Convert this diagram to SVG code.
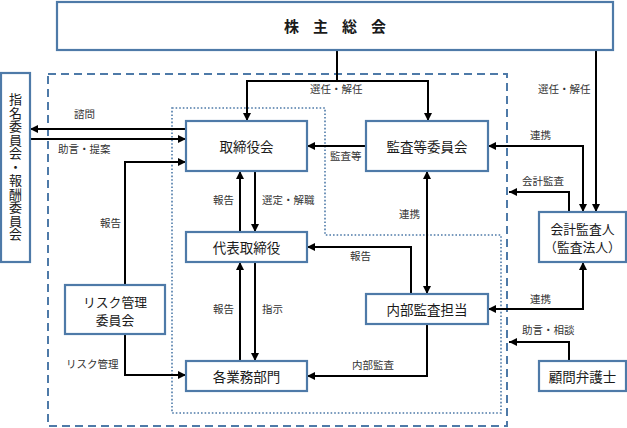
<svg xmlns="http://www.w3.org/2000/svg" width="627" height="428" viewBox="0 0 627 428">
<defs>
<marker id="ah" viewBox="0 0 10 10" refX="10" refY="5" markerWidth="4.2" markerHeight="4.2" orient="auto-start-reverse" markerUnits="strokeWidth">
<path d="M0,0 L10,5 L0,10 z" fill="#000"/>
</marker>
</defs>
<style>
.node{fill:#fff;stroke:#4e7aa8;stroke-width:2.2}
.nt{font-family:"Noto Sans CJK JP","Noto Sans CJK SC",sans-serif;font-size:13.5px;fill:#1a1a1a;text-anchor:middle;dominant-baseline:central}
.vt{font-family:"Noto Sans CJK JP","Noto Sans CJK SC",sans-serif;font-size:13px;fill:#1a1a1a;writing-mode:vertical-rl;text-anchor:middle;letter-spacing:0.5px}
.lb{font-family:"Noto Sans CJK JP","Noto Sans CJK SC",sans-serif;font-size:10.5px;fill:#333;dominant-baseline:central}
.c{fill:none;stroke:#000;stroke-width:2}
.a{marker-end:url(#ah)}
.b{marker-start:url(#ah);marker-end:url(#ah)}
</style>
<rect x="0" y="0" width="627" height="428" fill="#fff"/>
<g id="frames">
<rect x="48" y="74" width="459" height="352" fill="none" stroke="#4e7aa8" stroke-width="2" stroke-dasharray="8,5"/>
<path d="M172,108 H325 V235 H501 V413 H172 Z" fill="none" stroke="#4e7aa8" stroke-width="1.6" stroke-dasharray="1.6,2"/>
</g>
<g id="connectors">
<path class="c" d="M337,50 V81"/>
<path class="c a" d="M337,81 H247 V121"/>
<path class="c a" d="M337,81 H428 V121"/>
<path class="c a" d="M596,50 V212"/>
<path class="c a" d="M186,129 H30"/>
<path class="c a" d="M30,139 H186"/>
<path class="c a" d="M125,285 V162 H186"/>
<path class="c a" d="M125,334 V375 H186"/>
<path class="c a" d="M240,232 V171"/>
<path class="c a" d="M255,171 V232"/>
<path class="c a" d="M240,361 V262"/>
<path class="c a" d="M255,262 V361"/>
<path class="c a" d="M366,146 H307"/>
<path class="c b" d="M427,171 V294"/>
<path class="c a" d="M411,294 V247 H307"/>
<path class="c a" d="M427,324 V376 H307"/>
<path class="c b" d="M488,146 H583 V212"/>
<path class="c a" d="M569,212 V192 H509"/>
<path class="c b" d="M488,309 H583 V262"/>
<path class="c a" d="M569,361 V342 H509"/>
</g>
<g id="labels">
<text class="lb" x="310" y="88">選任・解任</text>
<text class="lb" x="538" y="88">選任・解任</text>
<text class="lb" x="74" y="113">諮問</text>
<text class="lb" x="58" y="148">助言・提案</text>
<text class="lb" x="100" y="222">報告</text>
<text class="lb" x="66" y="363">リスク管理</text>
<text class="lb" x="213" y="199">報告</text>
<text class="lb" x="262" y="199">選定・解職</text>
<text class="lb" x="213" y="308">報告</text>
<text class="lb" x="262" y="308">指示</text>
<text class="lb" x="330" y="155">監査等</text>
<text class="lb" x="399" y="213">連携</text>
<text class="lb" x="350" y="255">報告</text>
<text class="lb" x="352" y="364">内部監査</text>
<text class="lb" x="530" y="134">連携</text>
<text class="lb" x="522" y="180">会計監査</text>
<text class="lb" x="530" y="298">連携</text>
<text class="lb" x="522" y="329">助言・相談</text>
</g>
<g id="n-shareholders">
<rect class="node" x="57" y="2" width="556" height="48"/>
<text class="nt" x="342" y="25" style="font-size:15px;font-weight:bold;letter-spacing:14px">株主総会</text>
</g>
<g id="n-nomination">
<rect class="node" x="1" y="73" width="29" height="189"/>
<text class="vt" x="15.5" y="167">指名委員会・報酬委員会</text>
</g>
<g id="n-board">
<rect class="node" x="186" y="121" width="121" height="50"/>
<text class="nt" x="246.5" y="146">取締役会</text>
</g>
<g id="n-audit-committee">
<rect class="node" x="366" y="121" width="122" height="50"/>
<text class="nt" x="427" y="146">監査等委員会</text>
</g>
<g id="n-representative">
<rect class="node" x="186" y="232" width="121" height="30"/>
<text class="nt" x="246.5" y="247">代表取締役</text>
</g>
<g id="n-risk">
<rect class="node" x="65" y="285" width="100" height="49"/>
<text class="nt" style="font-size:12.8px"><tspan x="115" y="300.5">リスク管理</tspan><tspan x="115" dy="18.5">委員会</tspan></text>
</g>
<g id="n-divisions">
<rect class="node" x="186" y="361" width="121" height="30"/>
<text class="nt" x="246.5" y="376">各業務部門</text>
</g>
<g id="n-internal-audit">
<rect class="node" x="366" y="294" width="122" height="30"/>
<text class="nt" x="427" y="309">内部監査担当</text>
</g>
<g id="n-accounting-auditor">
<rect class="node" x="539" y="212" width="87" height="50"/>
<text class="nt" style="font-size:12.8px"><tspan x="582.5" y="227.5">会計監査人</tspan><tspan x="582.5" dy="18.5">（監査法人）</tspan></text>
</g>
<g id="n-lawyer">
<rect class="node" x="539" y="361" width="87" height="30"/>
<text class="nt" x="582.5" y="376">顧問弁護士</text>
</g>
</svg>
